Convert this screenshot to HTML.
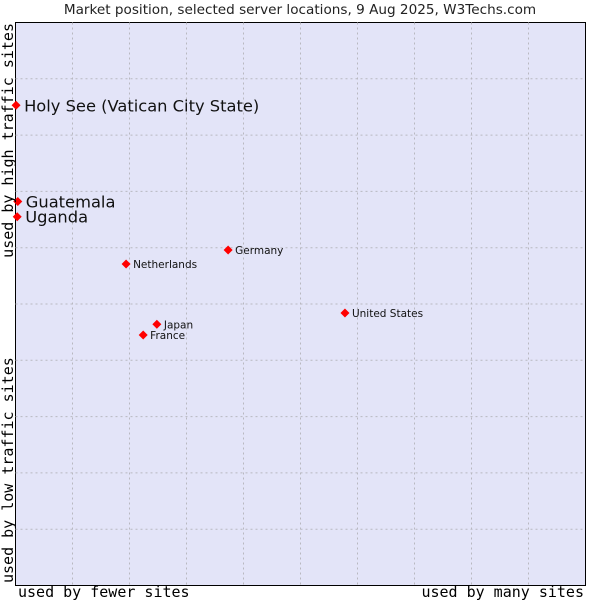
<!DOCTYPE html>
<html><head><meta charset="utf-8"><style>
body{margin:0;background:#fff}
svg{display:block}
</style></head><body>
<svg id="chart" width="600" height="600" viewBox="0 0 600 600" xmlns="http://www.w3.org/2000/svg">
<text x="300" y="14" text-anchor="middle" font-family="DejaVu Sans, sans-serif" font-size="13.6" fill="#222">Market position, selected server locations, 9 Aug 2025, W3Techs.com</text>
<rect x="15.5" y="22.5" width="570" height="563" fill="#e3e4f8" stroke="#000" stroke-width="1"/>
<g id="grid"></g>
<g id="marks"></g>
<text x="18" y="597" font-family="DejaVu Sans Mono, monospace" font-size="15" fill="#000">used by fewer sites</text>
<text x="584" y="597" text-anchor="end" font-family="DejaVu Sans Mono, monospace" font-size="15" fill="#000">used by many sites</text>
<text transform="translate(13,23) rotate(-90)" text-anchor="end" font-family="DejaVu Sans Mono, monospace" font-size="15" fill="#000">used by high traffic sites</text>
<text transform="translate(13,583) rotate(-90)" font-family="DejaVu Sans Mono, monospace" font-size="15" fill="#000">used by low traffic sites</text>
</svg>
<script>
const countries = ["Holy See (Vatican City State)","Guatemala","Uganda","Netherlands","Germany","United States","Japan","France"];
const xValues = [0.1,0.4,0.3,19.4,37.3,57.8,24.8,22.4];
const yValues = [85.3,68.2,65.5,57.1,59.6,48.4,46.4,44.5];
const bigLabel = [true,true,true,false,false,false,false,false];
const L=15.5,T=22.5,W=570,H=563;
const xs=v=>L+v/100*W, ys=v=>T+H-v/100*H;
const NS="http://www.w3.org/2000/svg";
const grid=document.getElementById('grid');
for(let i=1;i<10;i++){
  const v=document.createElementNS(NS,'line');
  
  
  v.setAttribute('x1',xs(i*10));v.setAttribute('x2',xs(i*10));v.setAttribute('y1',T);v.setAttribute('y2',T+H);
  v.setAttribute('stroke','#b8b8c0');v.setAttribute('stroke-dasharray','2,3');
  grid.appendChild(v);
  const h=document.createElementNS(NS,'line');
  
  
  h.setAttribute('y1',ys(i*10));h.setAttribute('y2',ys(i*10));h.setAttribute('x1',L);h.setAttribute('x2',L+W);
  h.setAttribute('stroke','#b8b8c0');h.setAttribute('stroke-dasharray','2,3');
  grid.appendChild(h);
}
const marks=document.getElementById('marks');
countries.forEach((c,i)=>{
  const x=xs(xValues[i]),y=ys(yValues[i]);
  const p=document.createElementNS(NS,'polygon');
  
  
  p.setAttribute('points',`${x},${y-4.5} ${x+4.5},${y} ${x},${y+4.5} ${x-4.5},${y}`);
  p.setAttribute('fill','#f00');
  marks.appendChild(p);
  const t=document.createElementNS(NS,'text');
  
  
  t.setAttribute('x',x+(bigLabel[i]?8:7));
  t.setAttribute('y',y+(bigLabel[i]?6:4));
  t.setAttribute('font-family','DejaVu Sans, sans-serif');
  t.setAttribute('font-size',bigLabel[i]?'16.3':'10.5');
  t.setAttribute('fill','#111');
  t.textContent=c;
  marks.appendChild(t);
});
</script>
</body></html>
